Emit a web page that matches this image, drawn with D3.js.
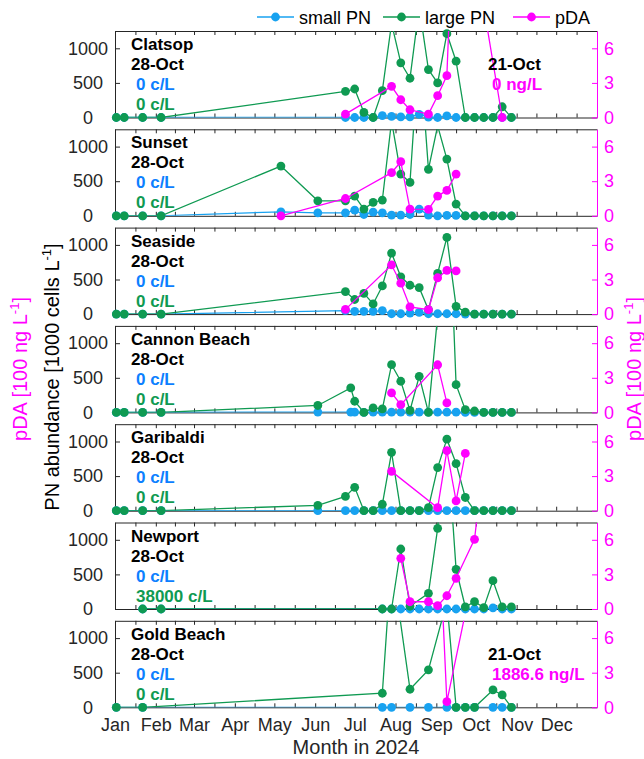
<!DOCTYPE html>
<html>
<head>
  <script src="https://d3js.org/d3.v7.min.js"></script>
  <style>
    body { margin: 0; background: #fff; }
    svg { font-family: "Liberation Sans", Arial, Helvetica, sans-serif; }
    .axis path, .axis line { stroke: #262626; stroke-width: 1px; }
    .axis text { font-size: 18px; fill: #262626; }
    .pda-axis path, .pda-axis line { stroke: #ff00ff; }
    .pda-axis text { fill: #ff00ff; }
    .note { font-size: 17px; font-weight: bold; }
  </style>
</head>
<body>
  <script>
    // sampling dates (2024) and values
    // small / large PN in 1000 cells/L, pDA in 100 ng/L (null = not sampled)
    var clatsopDates = ["01-02","01-08","01-22","02-05","06-24","07-01","07-08","07-15","07-22","07-29","08-05","08-12","08-19","08-26","09-02","09-09","09-16","09-23","09-30","10-07","10-14","10-21","10-28"];
    var clatsopSmall = [0,0,0,0, 0,0,0,0,27,15,10,10,46,5,0,24,0,0,0,0,0,0,0];
    var clatsopLarge = [0,0,0,0, 378,412,73,0,388,1360,790,567,1600,693,499,1211,814,0,0,0,0,155,0];
    var clatsopPda   = [null,null,null,null, 0.29,null,null,null,null,2.7,1.54,0.67,null,0.29,1.89,3.63,24,null,null,null,null,0,null];

    var sunsetDates = ["01-02","01-08","01-22","02-05","05-06","06-03","06-24","07-01","07-08","07-15","07-22","07-29","08-05","08-12","08-19","08-26","09-02","09-09","09-16","09-23","09-30","10-07","10-14","10-21","10-28"];
    var sunsetSmall = [0,0,0,0,58,43, 43,82,19,53,43,10,10,19,97,10,0,5,5,0,0,0,0,0,0];
    var sunsetLarge = [0,0,0,0,719,217, 217,285,97,193,227,1370,603,483,2500,671,1300,820,169,0,0,0,0,0,0];
    var sunsetPda   = [null,null,null,null,0,null, 1.5,null,null,null,null,3.74,4.69,0.58,null,0.55,1.71,2.2,3.62,null,null,null,null,null,null];

    var seasideDates = ["01-02","01-08","01-22","02-05","06-24","07-01","07-08","07-15","07-22","07-29","08-05","08-12","08-19","08-26","09-02","09-09","09-16","09-23","09-30","10-07","10-14","10-21","10-28"];
    var seasideSmall = [0,0,0,0, 49,39,39,39,49,5,5,15,25,5,5,5,5,0,0,0,0,0,0];
    var seasideLarge = [0,0,0,0, 324,211,299,147,407,882,539,417,382,64,588,1108,113,29,0,0,0,0,0];
    var seasidePda   = [null,null,null,null, 0.41,null,null,null,null,4.26,2.68,0.62,null,0.38,3.15,3.79,3.74,null,null,null,null,null,null];

    var cannonDates = ["01-02","01-08","01-22","02-05","06-03","06-28","07-01","07-08","07-15","07-22","07-29","08-05","08-12","08-19","08-26","09-02","09-09","09-16","09-23","09-30","10-07","10-14","10-21","10-28"];
    var cannonSmall = [0,0,0,0, 5,5,5,0,5,5,5,5,5,5,5,5,5,5,0,0,0,0,0,0];
    var cannonLarge = [0,0,0,0, 100,353,161,0,65,50,689,450,30,522,0,1400,3800,401,40,20,0,0,0,0];
    var cannonPda   = [null,null,null,null, null,null,null,null,null,null,1.69,0.67,null,null,null,4.13,0.82,null,null,null,null,null,null,null];

    var garibaldiDates = ["01-02","01-08","01-22","02-05","06-03","06-24","07-01","07-08","07-15","07-22","07-29","08-05","08-12","08-19","08-26","09-02","09-09","09-16","09-23","09-30","10-07","10-14","10-21","10-28"];
    var garibaldiSmall = [0,0,0,0,0, 0,0,0,0,0,0,0,0,0,0,0,0,0,0,0,0,0,0,0];
    var garibaldiLarge = [0,0,0,0,78, 206,338,0,0,93,843,0,0,0,44,623,1034,681,191,0,0,0,0,0];
    var garibaldiPda   = [null,null,null,null,null, null,null,null,null,null,3.41,null,null,null,null,0.26,5.2,0.85,4.97,null,null,null,null,null];

    var newportDates = ["01-22","02-05","07-22","07-29","08-05","08-12","08-19","08-26","09-02","09-09","09-16","09-23","09-30","10-07","10-14","10-21","10-28"];
    var newportSmall = [0,0, 0,0,0,0,0,0,0,0,0,0,0,0,15,0,0];
    var newportLarge = [0,0, 0,0,867,40,null,227,1166,2500,574,30,105,20,409,30,30];
    var newportPda   = [null,null, null,null,4.39,0.63,null,0.63,0.29,1.15,2.66,null,6.04,13,null,null,null];

    var goldDates = ["01-02","01-22","07-22","07-29","08-12","08-26","09-02","09-09","09-16","09-23","09-30","10-14","10-21","10-28"];
    var goldSmall = [0,0,0,0,0,0,null,0,0,0,0,0,0,0];
    var goldLarge = [0,0,203,2150,261,541,null,1530,0,0,0,251,179,0];
    var goldPda   = [null,null,null,null,null,null,18,0.49,null,null,12,null,18.866,null];

    var siteNames = ["Clatsop","Sunset","Seaside","Cannon Beach","Garibaldi","Newport","Gold Beach"];
    var lastDate  = "28-Oct";
    var smallNotes = ["0 c/L","0 c/L","0 c/L","0 c/L","0 c/L","0 c/L","0 c/L"];
    var largeNotes = ["0 c/L","0 c/L","0 c/L","0 c/L","0 c/L","38000 c/L","0 c/L"];
    var pdaDate  = "21-Oct";
    var pdaNotes = ["0 ng/L",null,null,null,null,null,"1886.6 ng/L"];

    var pnTicks = [0, 500, 1000];
    var pdaTicks = [0, 3, 6];
    var seriesNames = ["small PN", "large PN", "pDA"];
    var colors = ["#18a2f0", "#0f9a52", "#ff00ff"];
    var textBlue = "#0c80ff";

    var allDates = [clatsopDates, sunsetDates, seasideDates, cannonDates, garibaldiDates, newportDates, goldDates];
    var allSmall = [clatsopSmall, sunsetSmall, seasideSmall, cannonSmall, garibaldiSmall, newportSmall, goldSmall];
    var allLarge = [clatsopLarge, sunsetLarge, seasideLarge, cannonLarge, garibaldiLarge, newportLarge, goldLarge];
    var allPda   = [clatsopPda, sunsetPda, seasidePda, cannonPda, garibaldiPda, newportPda, goldPda];

    var width = 644, height = 759;
    var left = 115, right = 597;
    var top0 = 31, step = 98.3, ph = 86.5;
    var pnMax = 1250, pdaMax = 7.5;

    var parse = d3.timeParse("%Y-%m-%d");
    function day(s) { return parse("2024-" + s); }

    var svg = d3.select("body").append("svg")
        .attr("width", width)
        .attr("height", height);

    var x = d3.scaleTime()
        .domain([new Date(2024, 0, 1), new Date(2025, 0, 1)])
        .range([left, right]);

    // ticks at month start and mid month
    var months = d3.timeMonth.range(new Date(2024, 0, 1), new Date(2025, 0, 1));
    var minorTicks = [];
    months.forEach(function(m) {
      var next = d3.timeMonth.offset(m, 1);
      minorTicks.push(m);
      minorTicks.push(new Date((+m + +next) / 2));
    });

    siteNames.forEach(function(name, i) {
      var T = top0 + i * step;
      var yL = d3.scaleLinear().domain([0, pnMax]).range([T + ph, T]);
      var yR = d3.scaleLinear().domain([0, pdaMax]).range([T + ph, T]);
      var g = svg.append("g");

      g.append("clipPath").attr("id", "clip" + i)
        .append("rect")
          .attr("x", left).attr("y", T)
          .attr("width", right - left).attr("height", ph);

      // frame + ticks
      g.append("g").attr("class", "axis")
          .attr("transform", "translate(0," + (T + ph) + ")")
          .call(d3.axisBottom(x).tickValues(minorTicks).tickSize(-4).tickSizeOuter(0).tickFormat(""));
      g.append("g").attr("class", "axis")
          .attr("transform", "translate(0," + T + ")")
          .call(d3.axisTop(x).tickValues(minorTicks).tickSize(-4).tickSizeOuter(0).tickFormat(""));
      var la = g.append("g").attr("class", "axis")
          .attr("transform", "translate(" + left + ",0)")
          .call(d3.axisLeft(yL).tickValues(pnTicks).tickSize(-5).tickSizeOuter(0).tickFormat(d3.format("d")));
      la.selectAll("text").attr("text-anchor", "middle").attr("x", 88 - left);
      g.append("g").attr("class", "axis pda-axis")
          .attr("transform", "translate(" + right + ",0)")
          .call(d3.axisRight(yR).tickValues(pdaTicks).tickSize(-5).tickSizeOuter(0).tickPadding(7));

      var dates = allDates[i].map(day);
      var sets = [allSmall[i], allLarge[i], allPda[i]];
      sets.forEach(function(vals, k) {
        var y = k == 2 ? yR : yL;
        var ymax = k == 2 ? pdaMax : pnMax;
        var pts = dates.map(function(d, j) { return { date: d, v: vals[j] }; })
            .filter(function(d) { return d.v != null; });
        var line = d3.line()
            .x(function(d) { return x(d.date); })
            .y(function(d) { return y(d.v); });
        g.append("path")
            .datum(pts)
            .attr("clip-path", "url(#clip" + i + ")")
            .attr("fill", "none")
            .attr("stroke", colors[k])
            .attr("stroke-width", 1.3)
            .attr("d", line);
        g.selectAll(".dot" + k)
            .data(pts.filter(function(d) { return d.v <= ymax; }))
          .enter().append("circle")
            .attr("class", "dot" + k)
            .attr("cx", function(d) { return x(d.date); })
            .attr("cy", function(d) { return y(d.v); })
            .attr("r", 4.4)
            .attr("fill", colors[k]);
      });

      // panel notes
      g.append("text").attr("class", "note").attr("x", 131).attr("y", T + 19).attr("fill", "#000").text(name);
      g.append("text").attr("class", "note").attr("x", 131).attr("y", T + 39).attr("fill", "#000").text(lastDate);
      g.append("text").attr("class", "note").attr("x", 136).attr("y", T + 59).attr("fill", textBlue).text(smallNotes[i]);
      g.append("text").attr("class", "note").attr("x", 136).attr("y", T + 79).attr("fill", colors[1]).text(largeNotes[i]);
      if (pdaNotes[i]) {
        g.append("text").attr("class", "note").attr("x", 488).attr("y", T + 39).attr("fill", "#000").text(pdaDate);
        g.append("text").attr("class", "note").attr("x", 492).attr("y", T + 59).attr("fill", colors[2]).text(pdaNotes[i]);
      }
    });

    // month labels under the last panel
    var lastBottom = top0 + 6 * step + ph;
    var xa = svg.append("g").attr("class", "axis")
        .attr("transform", "translate(0," + lastBottom + ")")
        .call(d3.axisBottom(x).tickValues(months).tickSize(0).tickPadding(11).tickFormat(d3.timeFormat("%b")));
    xa.select("path").remove();

    svg.append("text")
        .attr("x", (left + right) / 2).attr("y", 754)
        .attr("text-anchor", "middle")
        .attr("font-size", 20).attr("fill", "#262626")
        .text("Month in 2024");

    // axis titles
    function yTitle(cx, cy, label, color) {
      var t = svg.append("text")
          .attr("transform", "translate(" + cx + "," + cy + ") rotate(-90)")
          .attr("text-anchor", "middle")
          .attr("font-size", 20)
          .attr("fill", color);
      t.append("tspan").text(label);
      t.append("tspan").attr("dy", -8).attr("font-size", 13).text("-1");
      t.append("tspan").attr("dy", 8).text("]");
    }
    yTitle(59, 377, "PN abundance [1000 cells L", "#000");
    yTitle(27, 369, "pDA [100 ng L", "#ff00ff");
    yTitle(641, 369, "pDA [100 ng L", "#ff00ff");

    // legend
    var legX = [257, 383, 513];
    seriesNames.forEach(function(s, k) {
      var lg = svg.append("g").attr("transform", "translate(" + legX[k] + ",17)");
      lg.append("line").attr("x1", 0).attr("x2", 37).attr("stroke", colors[k]).attr("stroke-width", 1.3);
      lg.append("circle").attr("cx", 18.5).attr("r", 4.4).attr("fill", colors[k]);
      lg.append("text").attr("x", 42).attr("y", 6.5).attr("font-size", 18).attr("fill", "#000").text(s);
    });
  </script>
</body>
</html>
